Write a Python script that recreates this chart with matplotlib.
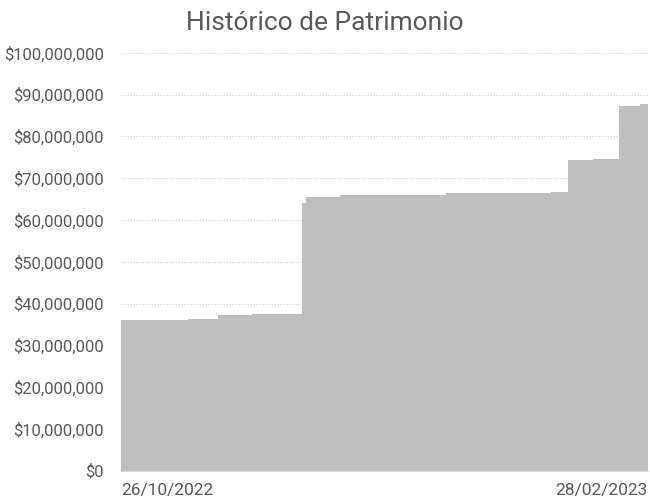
import matplotlib
matplotlib.use("Agg")
import matplotlib.pyplot as plt
import matplotlib.ticker as mticker
import pandas as pd

# Dates where the balance changes, and the level held from that date
change_dates = ["2022-10-26", "2022-11-11", "2022-11-18", "2022-11-26", "2022-12-08",
                "2022-12-09", "2022-12-17", "2023-01-11", "2023-02-05", "2023-02-09",
                "2023-02-15", "2023-02-21", "2023-02-26", "2023-02-28"]
patrimonio = [36.0e6, 36.4e6, 37.2e6, 37.6e6, 64.0e6,
              65.5e6, 66.1e6, 66.4e6, 66.8e6, 74.4e6,
              74.7e6, 87.4e6, 87.8e6, 87.8e6]
xtick_labels = ["26/10/2022", "28/02/2023"]

TEXT = "#595959"

fechas = pd.to_datetime(change_dates)

fig = plt.figure(figsize=(6.5, 5.04), dpi=100)
ax = fig.add_axes([0.186, 0.066, 0.811, 0.829])

ax.fill_between(fechas, patrimonio, 0, step="post", color="#bfbfbf", linewidth=0, zorder=2)

ax.set_ylim(0, 100e6)
ax.set_xlim(fechas[0], fechas[-1])
ax.yaxis.set_major_locator(mticker.MultipleLocator(10e6))
ax.yaxis.set_major_formatter(mticker.FuncFormatter(lambda v, p: "${:,.0f}".format(v)))
ax.grid(axis="y", color="#d9d9d9", linestyle=(0, (1.2, 1.2)), linewidth=0.9, zorder=1)

ax.set_xticks([fechas[0], fechas[-1]])
ax.set_xticklabels(xtick_labels)
lbls = ax.get_xticklabels()
lbls[0].set_ha("left")
lbls[1].set_ha("right")

ax.tick_params(axis="y", length=0, pad=12, labelsize=12, labelcolor=TEXT)
ax.tick_params(axis="x", length=0, pad=9, labelsize=12.5, labelcolor=TEXT)
for lab in ax.get_yticklabels() + ax.get_xticklabels():
    lab.set_family("Roboto")

for s in ["top", "right", "left"]:
    ax.spines[s].set_visible(False)
ax.spines["bottom"].set_color("#d9d9d9")

fig.text(0.5, 0.955, "Histórico de Patrimonio", ha="center", va="center",
         fontsize=19, color=TEXT, family="Roboto")

fig.savefig("out.png", dpi=100)
